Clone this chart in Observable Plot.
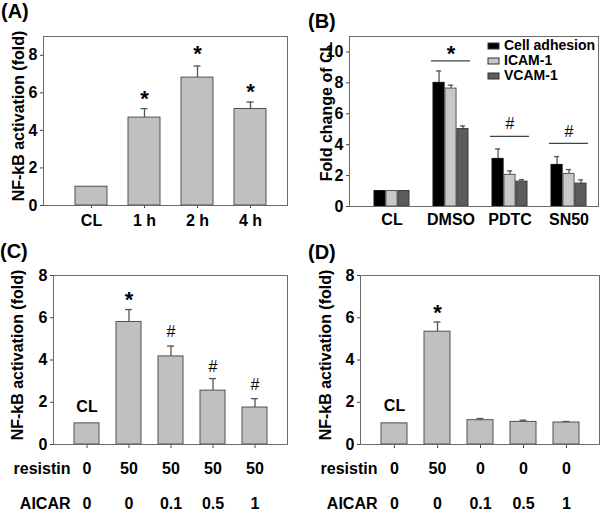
<!DOCTYPE html>
<html><head><meta charset="utf-8">
<script src="https://cdn.jsdelivr.net/npm/d3@7"></script>
<script src="https://cdn.jsdelivr.net/npm/@observablehq/plot@0.6"></script>
<style>
html,body{margin:0;padding:0;background:#fff;}
#fig{position:relative;width:600px;height:511px;overflow:hidden;background:#fff;font-family:"Liberation Sans",Arial,sans-serif;}
.panel{position:absolute;}
.plabel{position:absolute;font:bold 20px "Liberation Sans",Arial,sans-serif;line-height:22px;color:#000;}
#legB{position:absolute;left:488px;top:38px;}
#legB, #legB *{font-family:"Liberation Sans",Arial,sans-serif !important;font-weight:bold !important;font-size:14px !important;color:#000 !important;}
#legB div{padding-bottom:0 !important;line-height:15px !important;margin:0 !important;min-height:0 !important;}
#legB svg{margin-right:5px !important;overflow:visible !important;}
#legB svg rect{stroke:#333;stroke-width:1px;}
</style></head>
<body><div id="fig"></div>
<script>
// ---------- Panel A ----------
const catsA = ["CL", "1 h", "2 h", "4 h"];
const valA = [1.0, 4.68, 6.81, 5.14];
const errA = [null, 5.16, 7.43, 5.51];
const starA = [null, 5.96, 8.34, 6.29];
const yTicksA = [0, 2, 4, 6, 8];

// ---------- Panel B ----------
const groupsB = ["CL", "DMSO", "PDTC", "SN50"];
const seriesB = ["Cell adhesion", "ICAM-1", "VCAM-1"];
const cellAdhesionB = [1.0, 8.0, 3.08, 2.69];
const cellAdhesionErrB = [null, 8.77, 3.72, 3.23];
const icamB = [1.0, 7.63, 2.05, 2.11];
const icamErrB = [null, 7.85, 2.30, 2.39];
const vcamB = [1.0, 5.01, 1.61, 1.48];
const vcamErrB = [null, 5.21, 1.74, 1.72];
const sigMarkB = [null, "*", "#", "#"];
const sigLineB = [null, 9.42, 4.54, 4.08];
const sigTextB = [null, 10.17, 5.34, 4.86];
const yTicksB = [0, 2, 4, 6, 8, 10];

// ---------- Panel C ----------
const catsC = ["C1", "C2", "C3", "C4", "C5"];
const resistinC = ["0", "50", "50", "50", "50"];
const aicarC = ["0", "0", "0.1", "0.5", "1"];
const valC = [1.0, 5.80, 4.17, 2.55, 1.75];
const errC = [null, 6.39, 4.66, 3.12, 2.17];
const markC = ["CL", "*", "#", "#", "#"];
const markPosC = [1.78, 7.06, 5.32, 3.67, 2.80];

// ---------- Panel D ----------
const catsD = ["D1", "D2", "D3", "D4", "D5"];
const resistinD = ["0", "50", "0", "0", "0"];
const aicarD = ["0", "0", "0.1", "0.5", "1"];
const valD = [1.0, 5.34, 1.15, 1.07, 1.04];
const errD = [null, 5.80, 1.23, 1.15, 1.09];
const markD = ["CL", "*", null, null, null];
const markPosD = [1.83, 6.46, null, null, null];
const yTicksCD = [0, 2, 4, 6, 8];

const FONT = "'Liberation Sans', Arial, sans-serif";
const BAR_FILL = "#c0c0c0", BAR_STROKE = "#505050", ERR = "#555", FRAME = "#6a6a6a";
const fig = document.getElementById("fig");

function place(el, left, top) {
  el.classList.add("panel");
  el.style.left = left + "px";
  el.style.top = top + "px";
  fig.appendChild(el);
}
function label(txt, left, top) {
  const d = document.createElement("div");
  d.className = "plabel"; d.textContent = txt;
  d.style.left = left + "px"; d.style.top = top + "px";
  fig.appendChild(d);
}
function bandW(range, n, pi) { return (range[1] - range[0]) / (n - pi) * (1 - pi); }
const svgStyle = {fontFamily: FONT, fontSize: "16px", fontWeight: "bold", background: "transparent", overflow: "visible", color: "#000"};

function yLabelMark(txt, dx, dy) {
  return Plot.text([txt], {frameAnchor: "left", text: d => d, rotate: -90, textAnchor: "middle", lineAnchor: "middle", dx, dy, fontSize: 16, fontWeight: "bold", fill: "#000"});
}

function singlePanel(o) {
  const data = o.cats.map((c, i) => ({cat: c, v: o.vals[i], e: o.errs[i], m: o.marks ? o.marks[i] : null, mp: o.markPos ? o.markPos[i] : null}));
  const withErr = data.filter(d => d.e != null);
  const bw = bandW(o.range, o.cats.length, o.padIn);
  const capIn = (bw - 7) / 2;
  const marks = [
    Plot.ruleX(withErr, {x: "cat", y1: "v", y2: "e", stroke: ERR, strokeWidth: 1.3}),
    Plot.tickY(withErr, {x: "cat", y: "e", stroke: ERR, strokeWidth: 1.3, insetLeft: capIn, insetRight: capIn}),
    Plot.barY(data, {x: "cat", y: "v", fill: BAR_FILL, stroke: BAR_STROKE, strokeWidth: 1}),
    Plot.text(data.filter(d => d.m === "*"), {x: "cat", y: "mp", text: "m", fontSize: 22, fontWeight: "bold", dy: 5, fill: "#000"}),
    Plot.text(data.filter(d => d.m === "#"), {x: "cat", y: "mp", text: "m", fontSize: 16, fontWeight: "normal", fill: "#000"}),
    Plot.text(data.filter(d => d.m === "CL"), {x: "cat", y: "mp", text: "m", fontSize: 16, fontWeight: "bold", fill: "#000"}),
    Plot.axisY({ticks: o.yTicks, tickSize: 3, tickPadding: 3, label: null, fontSize: 16, fontWeight: "bold", stroke: "#444", fill: "#000"}),
    ...o.xAxes,
    yLabelMark(o.yLabel, o.ylDx, o.ylDy),
    Plot.frame({stroke: FRAME, strokeWidth: 1})
  ];
  return Plot.plot({
    width: o.width, height: o.height,
    marginLeft: o.ml, marginRight: o.mr, marginTop: o.mt, marginBottom: o.mb,
    x: {type: "band", domain: o.cats, range: o.range, paddingInner: o.padIn, paddingOuter: 0},
    y: {domain: o.yDomain},
    style: svgStyle,
    marks
  });
}

// Panel A
place(singlePanel({
  cats: catsA, vals: valA, errs: errA,
  marks: starA.map(s => s == null ? null : "*"), markPos: starA,
  yTicks: yTicksA, yDomain: [0, 9],
  range: [74, 266], padIn: 0.4,
  width: 300, height: 255, ml: 43, mr: 13, mt: 36, mb: 50,
  yLabel: "NF-kB activation (fold)", ylDx: -25, ylDy: -5,
  xAxes: [Plot.axisX({tickSize: 3, tickPadding: 6, label: null, fontSize: 16, fontWeight: "bold", stroke: "#444", fill: "#000"})]
}), 0, 0);

// Panel B
(function () {
  const range = [72.5, 287.5], padIn = 0.4;
  const bw = bandW(range, groupsB.length, padIn);
  const sub = bw / 3, cap = 6;
  const colorsB = ["#000000", "#c8c8c8", "#5c5c5c"];
  const strokesB = ["#111", "#555", "#3a3a3a"];
  const vals = [cellAdhesionB, icamB, vcamB];
  const errs = [cellAdhesionErrB, icamErrB, vcamErrB];
  const marks = [];
  seriesB.forEach((s, k) => {
    const data = groupsB.map((g, i) => ({g, v: vals[k][i], e: errs[k][i]}));
    const we = data.filter(d => d.e != null);
    const c = sub * (k + 0.5);
    marks.push(Plot.ruleX(we, {x: "g", y1: "v", y2: "e", dx: c - bw / 2, stroke: ERR, strokeWidth: 1.3}));
    marks.push(Plot.tickY(we, {x: "g", y: "e", stroke: ERR, strokeWidth: 1.3, insetLeft: c - cap / 2, insetRight: bw - c - cap / 2}));
    marks.push(Plot.barY(data, {x: "g", y: "v", fill: colorsB[k], stroke: strokesB[k], strokeWidth: 1, insetLeft: sub * k, insetRight: sub * (2 - k)}));
  });
  const sig = groupsB.map((g, i) => ({g, m: sigMarkB[i], ly: sigLineB[i], ty: sigTextB[i]})).filter(d => d.m != null);
  marks.push(Plot.ruleY(sig, {x1: "g", x2: "g", y: "ly", stroke: "#444", strokeWidth: 1.2, insetLeft: -2, insetRight: -2}));
  marks.push(Plot.text(sig.filter(d => d.m === "*"), {x: "g", y: "ty", text: "m", fontSize: 22, fontWeight: "bold", dy: 5, fill: "#000"}));
  marks.push(Plot.text(sig.filter(d => d.m === "#"), {x: "g", y: "ty", text: "m", fontSize: 16, fontWeight: "normal", fill: "#000"}));
  marks.push(Plot.axisY({ticks: yTicksB, tickSize: 3, tickPadding: 3, label: null, fontSize: 16, fontWeight: "bold", stroke: "#444", fill: "#000"}));
  marks.push(Plot.axisX({tickSize: 0, tickPadding: 7, label: null, fontSize: 16, fontWeight: "bold", fill: "#000"}));
  marks.push(yLabelMark("Fold change of CL", -23, -10));
  marks.push(Plot.frame({stroke: FRAME, strokeWidth: 1}));
  const svg = Plot.plot({
    width: 300, height: 255, marginLeft: 49, marginRight: 2, marginTop: 36, marginBottom: 49,
    x: {type: "band", domain: groupsB, range, paddingInner: padIn, paddingOuter: 0},
    y: {domain: [0, 11]},
    style: svgStyle,
    marks
  });
  place(svg, 300, 0);
  const leg = Plot.legend({color: {type: "ordinal", domain: seriesB, range: colorsB}, legend: "swatches", columns: 1, swatchWidth: 11, swatchHeight: 6});
  const wrap = document.createElement("div");
  wrap.id = "legB";
  wrap.appendChild(leg);
  fig.appendChild(wrap);
})();

function rowAxes(cats, row1, row2, rowDx) {
  return [
    Plot.axisX({tickSize: 4, tickPadding: 14, label: null, tickFormat: d => row1[cats.indexOf(d)], fontSize: 16, fontWeight: "bold", stroke: "#444", fill: "#000"}),
    Plot.axisX({tickSize: 0, tickPadding: 53, label: null, tickFormat: d => row2[cats.indexOf(d)], fontSize: 16, fontWeight: "bold", fill: "#000"}),
    Plot.text(["resistin"], {frameAnchor: "bottom-left", text: d => d, textAnchor: "end", lineAnchor: "middle", dx: rowDx, dy: 24, fontSize: 16, fontWeight: "bold", fill: "#000"}),
    Plot.text(["AICAR"], {frameAnchor: "bottom-left", text: d => d, textAnchor: "end", lineAnchor: "middle", dx: rowDx, dy: 59, fontSize: 16, fontWeight: "bold", fill: "#000"})
  ];
}

// Panel C
place(singlePanel({
  cats: catsC, vals: valC, errs: errC, marks: markC, markPos: markPosC,
  yTicks: yTicksCD, yDomain: [0, 8],
  range: [72.7, 268], padIn: 0.413,
  width: 300, height: 256, ml: 53, mr: 13, mt: 20, mb: 67,
  yLabel: "NF-kB activation (fold)", ylDx: -36, ylDy: -5,
  xAxes: rowAxes(catsC, resistinC, aicarC, 17)
}), 0, 255);

// Panel D
place(singlePanel({
  cats: catsD, vals: valD, errs: errD, marks: markD, markPos: markPosD,
  yTicks: yTicksCD, yDomain: [0, 8],
  range: [80, 279], padIn: 0.399,
  width: 300, height: 256, ml: 60, mr: 1, mt: 20, mb: 67,
  yLabel: "NF-kB activation (fold)", ylDx: -35, ylDy: -5,
  xAxes: rowAxes(catsD, resistinD, aicarD, 17)
}), 300, 255);

label("(A)", 1, 0);
label("(B)", 308, 10);
label("(C)", 0, 240);
label("(D)", 308, 241);
</script>
</body></html>
